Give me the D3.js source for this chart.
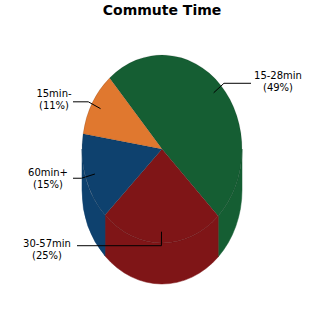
<!DOCTYPE html>
<html><head><meta charset="utf-8">
<script src="https://cdn.jsdelivr.net/npm/d3@7"></script>
<style>body{margin:0;background:#fff}svg{display:block}</style>
</head><body>
<svg id="c" width="325" height="325"></svg>
<script>
const title = "Commute Time";
const categories = ["15-28min", "30-57min", "60min+", "15min-"];
const values = [49, 25, 15, 11];
const colors = ["#155e33", "#7f1517", "#0e416e", "#e0782f"];

// layout
const cx = 162, cy = 149, rx = 80, ry = 94, depth = 41;
const startDeg = -41;
const labelPos = [ {x: 278, y: 79, lx: 251}, {x: 47, y: 247, lx: 77}, {x: 48, y: 176, lx: 73}, {x: 54, y: 97, lx: 73} ];

const svg = d3.select("#c");
const total = d3.sum(values);
const data = categories.map((c, i) => ({cat: c, value: values[i], color: colors[i], lp: labelPos[i]}));
const a0 = startDeg * Math.PI / 180;
const pie = d3.pie().sort(null).value(d => d.value).startAngle(a0).endAngle(a0 + 2 * Math.PI);
const arcs = pie(data);

const g = svg.append("g").attr("transform", `translate(${cx},${cy}) scale(${rx / ry},1)`);

// side walls (front half: angles between PI/2 and 3PI/2)
arcs.forEach(a => {
  const s = a.startAngle, e = a.endAngle;
  [-2 * Math.PI, 0, 2 * Math.PI].forEach(off => {
    const lo = Math.max(s + off, Math.PI / 2), hi = Math.min(e + off, 3 * Math.PI / 2);
    if (hi <= lo) return;
    const p = d3.path();
    const t0 = lo - Math.PI / 2, t1 = hi - Math.PI / 2;
    p.moveTo(ry * Math.cos(t0), ry * Math.sin(t0));
    p.arc(0, 0, ry, t0, t1, false);
    p.lineTo(ry * Math.cos(t1), ry * Math.sin(t1) + depth);
    p.arc(0, depth, ry, t1, t0, true);
    p.closePath();
    g.append("path").attr("d", p.toString()).attr("fill", a.data.color)
      .attr("stroke", a.data.color).attr("stroke-width", 0.5).attr("vector-effect", "non-scaling-stroke");
  });
});

// top faces
const arcGen = d3.arc().innerRadius(0).outerRadius(ry);
g.selectAll("path.top").data(arcs).join("path").attr("class", "top")
  .attr("d", arcGen).attr("fill", d => d.data.color)
  .attr("stroke", "rgba(0,0,0,0.14)").attr("stroke-width", 0.8)
  .attr("vector-effect", "non-scaling-stroke");

// title
svg.append("text").attr("x", 162).attr("y", 15).attr("text-anchor", "middle")
  .attr("font-family", "DejaVu Sans").attr("font-weight", "bold").attr("font-size", 14)
  .attr("fill", "#000").text(title);

// labels with leader lines
arcs.forEach(a => {
  const m = (a.startAngle + a.endAngle) / 2;
  const ux = Math.sin(m), uy = -Math.cos(m);
  const p1 = [cx + rx * 0.88 * ux, cy + ry * 0.88 * uy];
  const p2 = [p1[0] + 14 * ux, p1[1] + 14 * uy];
  const lp = a.data.lp;
  svg.append("polyline").attr("points", [p1, p2, [lp.lx, p2[1]]].map(p => p.join(",")).join(" "))
    .attr("fill", "none").attr("stroke", "#000").attr("stroke-width", 1);
  const t = svg.append("text").attr("text-anchor", "middle").attr("font-family", "DejaVu Sans")
    .attr("font-size", 10).attr("fill", "#000");
  t.append("tspan").attr("x", lp.x).attr("y", lp.y).text(a.data.cat);
  t.append("tspan").attr("x", lp.x).attr("y", lp.y + 11.5).text(`(${Math.round(a.data.value / total * 100)}%)`);
});
</script>
</body></html>
